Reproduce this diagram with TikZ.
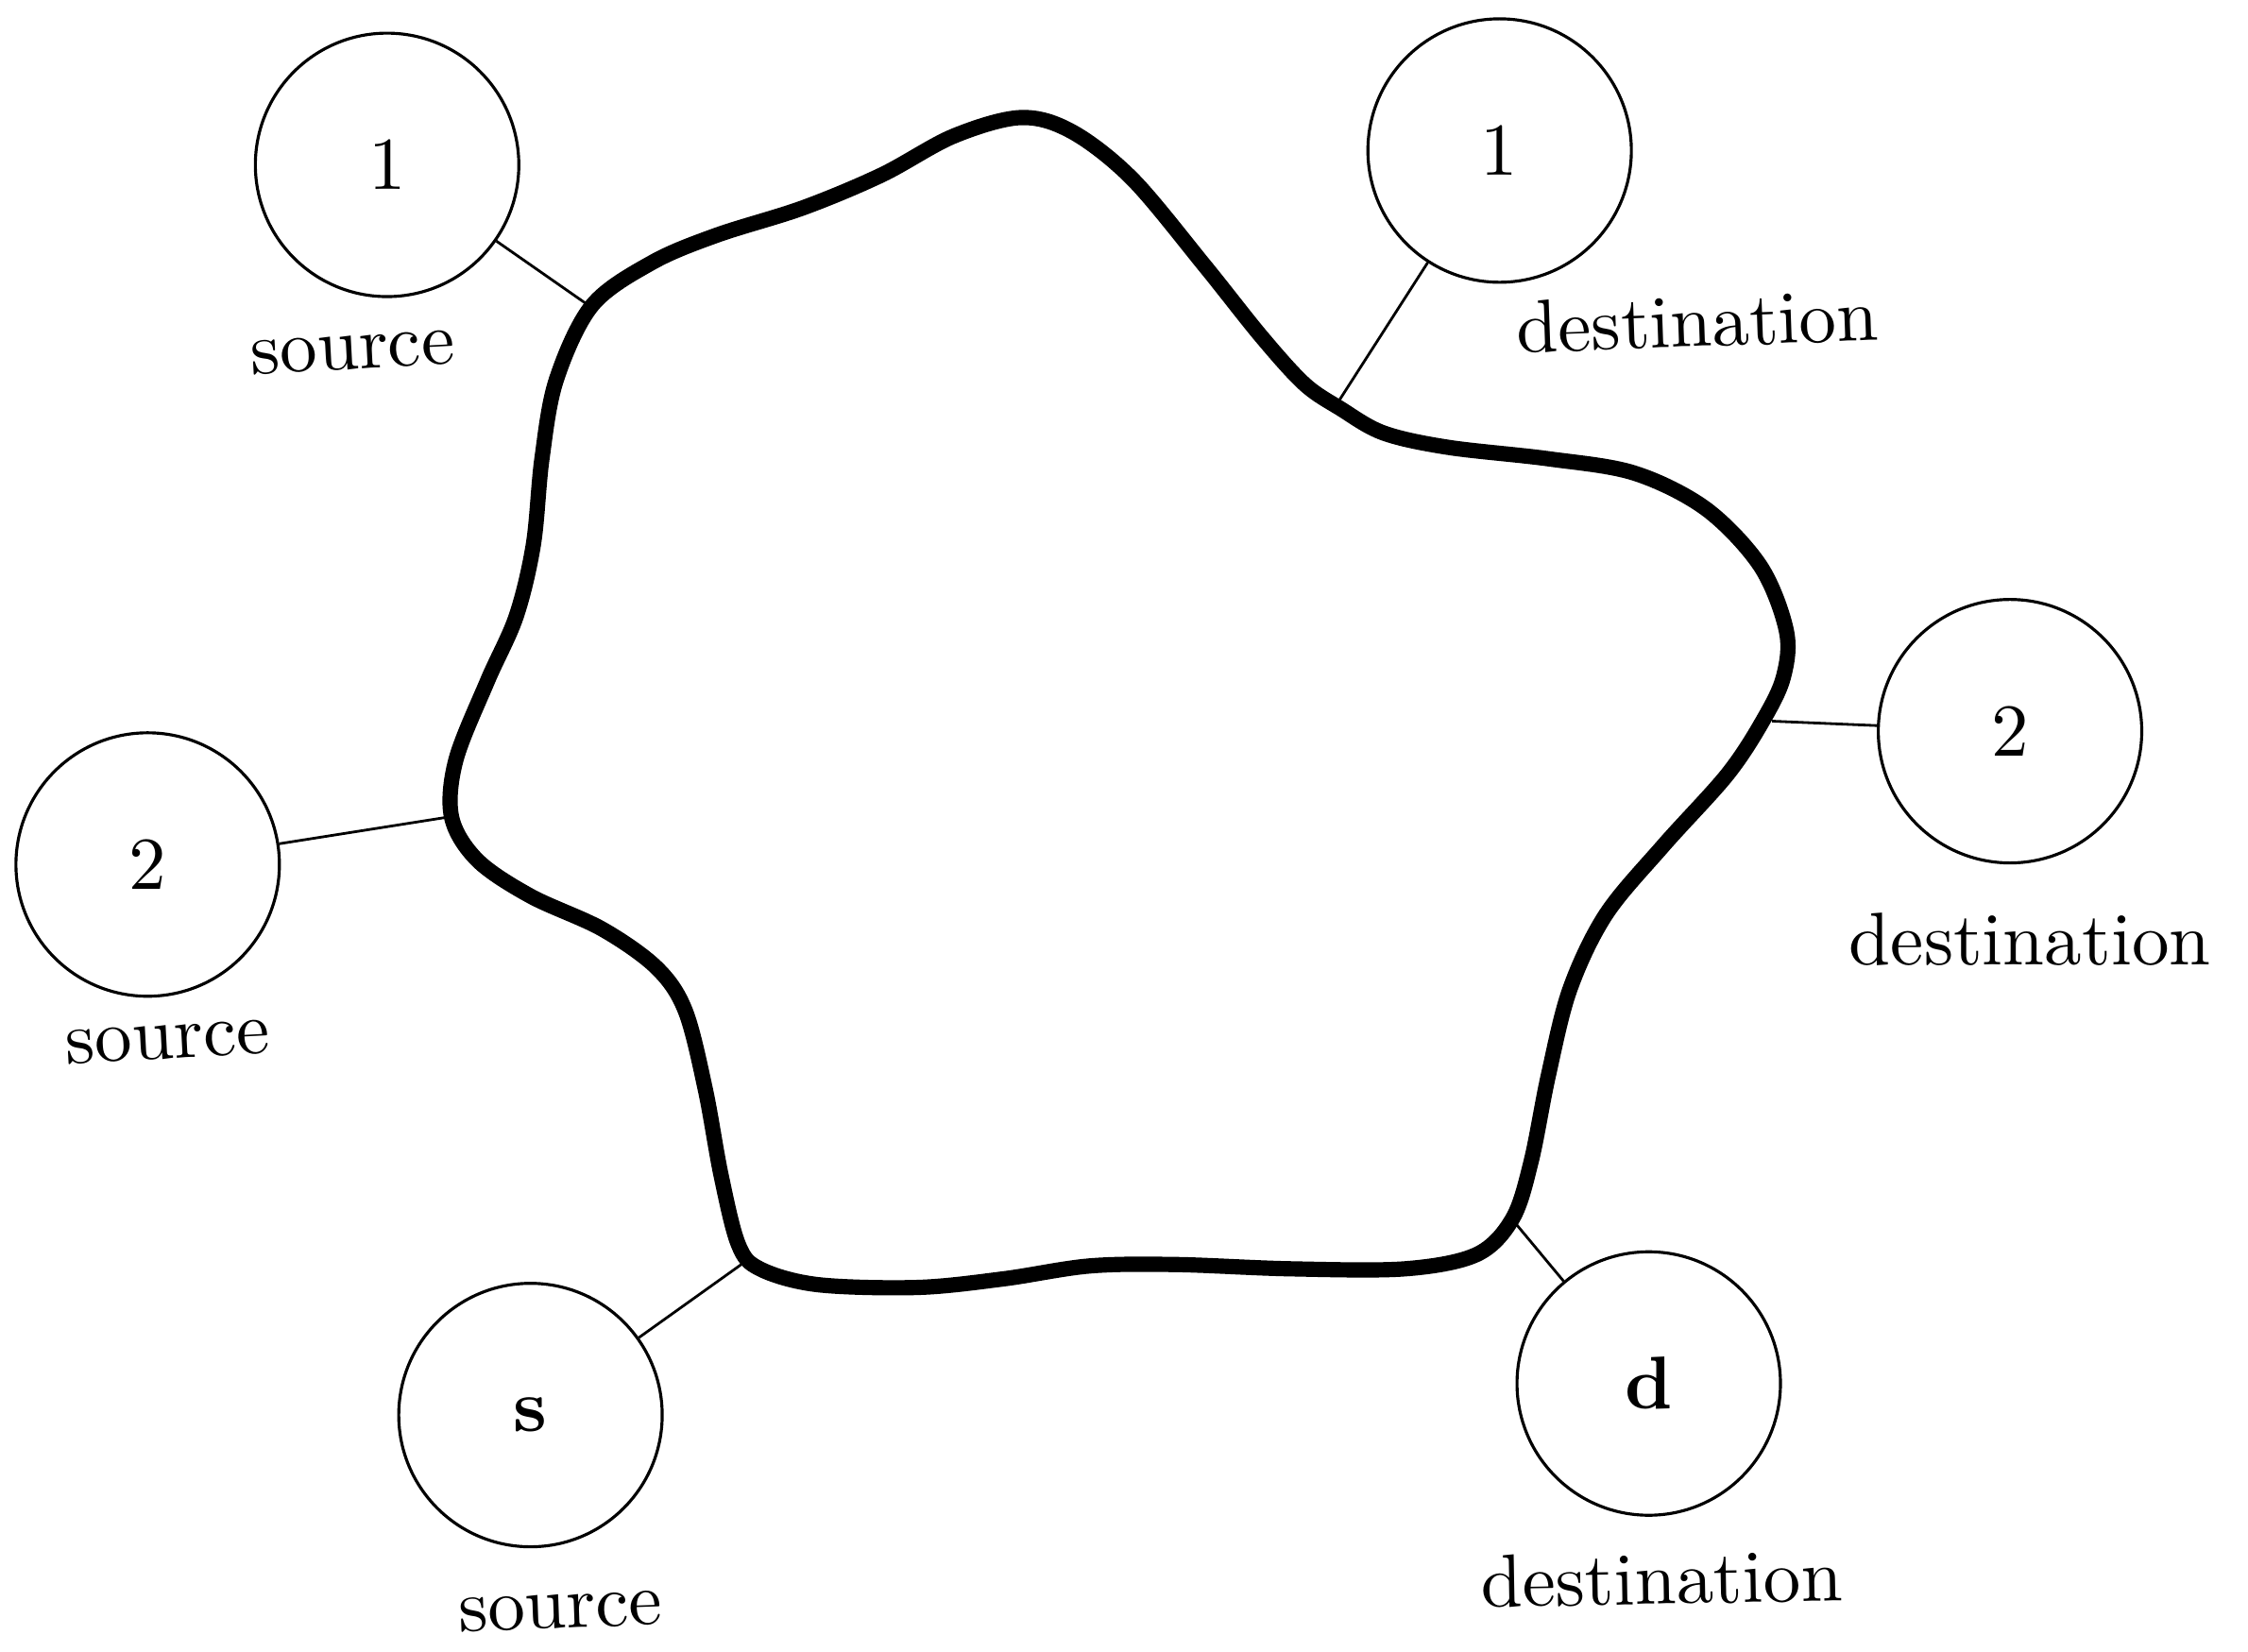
\documentclass[tikz,border=0pt]{standalone}
\newcommand\bigtxt[1]{\scalebox{2.25}{\fontsize{10}{12}\selectfont #1}}
\begin{document}
\begin{tikzpicture}[x=0.015179cm,y=-0.015179cm,
  host/.style={circle,draw,line width=0.9pt,minimum size=2.79cm,inner sep=0pt},
  lbl/.style={inner sep=0pt},
  link/.style={line width=0.8pt},
  net/.style={line width=4.6pt,line join=round}]
\useasboundingbox (0,0) rectangle (1568,1152);

% the network cloud
\draw[net] plot[smooth cycle,tension=0.55] coordinates {
  (413,213) (455,183) (500,164) (560,145) (615,122) (665,95) (712,82) (748,92)
  (790,125) (840,185) (880,235) (910,268) (935,285) (965,302) (1010,312)
  (1080,320) (1140,330) (1190,355) (1228,395) (1246,440) (1244,472)
  (1230,502) (1205,540) (1160,590) (1120,638) (1095,690) (1080,750)
  (1068,810) (1055,850) (1030,875) (980,885) (900,885) (820,882)
  (760,883) (700,892) (640,898) (570,896) (530,885) (515,868)
  (503,820) (492,760) (478,705) (458,675) (420,648) (370,625)
  (333,600) (315,570) (318,530) (340,475) (360,430) (372,380)
  (378,320) (388,265)};

% attachment points on the cloud
\coordinate (a1) at (412,214);
\coordinate (a2) at (312,570);
\coordinate (as) at (517,882);
\coordinate (b1) at (933,281);
\coordinate (b2) at (1236,503);
\coordinate (bd) at (1056,852);

% hosts
\node[host] (s1) at (270,115) {\bigtxt{1}};
\node[host] (s2) at (103,603) {\bigtxt{2}};
\node[host] (ss) at (370,987) {\bigtxt{\textbf{s}}};
\node[host] (d1) at (1046,105) {\bigtxt{1}};
\node[host] (d2) at (1402,510) {\bigtxt{2}};
\node[host] (dd) at (1150,965) {\bigtxt{\textbf{d}}};

% links
\draw[link] (s1) -- (a1);
\draw[link] (s2) -- (a2);
\draw[link] (ss) -- (as);
\draw[link] (d1) -- (b1);
\draw[link] (d2) -- (b2);
\draw[link] (dd) -- (bd);

% labels
\node[lbl,rotate=3] (ls1) at (246,246) {\bigtxt{source}};
\node[lbl,rotate=3] (ls2) at (117,727) {\bigtxt{source}};
\node[lbl,rotate=2] (lss) at (391,1124) {\bigtxt{source}};
\node[lbl,rotate=2] (ld1) at (1184,224) {\bigtxt{destination}};
\node[lbl] (ld2) at (1416,655) {\bigtxt{destination}};
\node[lbl,rotate=1] (ldd) at (1159,1101) {\bigtxt{destination}};
\end{tikzpicture}
\end{document}
